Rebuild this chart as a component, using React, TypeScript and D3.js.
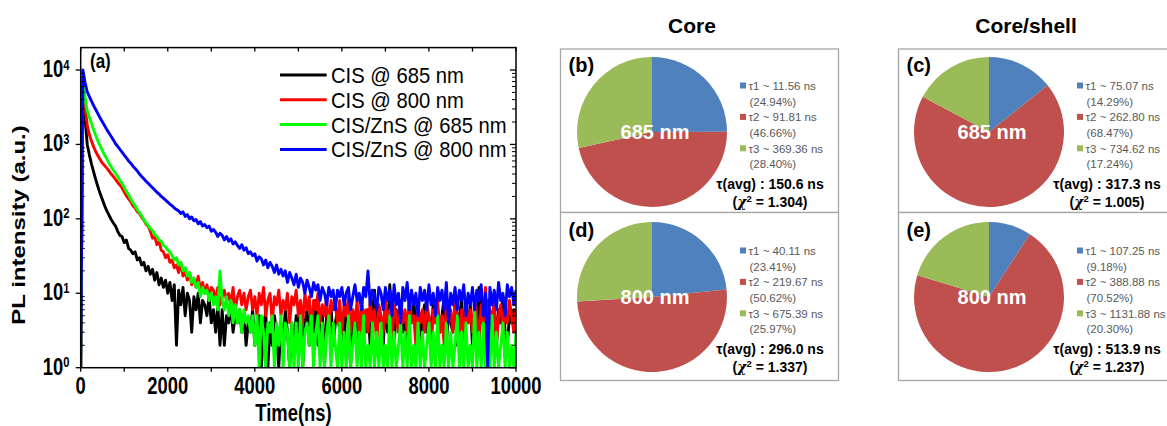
import React from "react";
import * as d3 from "d3";

// time grid (ns), one sample every 50 ns
const times = d3.range(0, 10001, 50);

const seriesNames = ["CIS @ 685 nm", "CIS @ 800 nm", "CIS/ZnS @ 685 nm", "CIS/ZnS @ 800 nm"];
const seriesColors = ["#000000", "#ff0000", "#00ff00", "#0000ff"];

const cis685 = [
  1, 6500, 2200, 1000, 720, 540, 420, 330, 265, 215, 180, 150, 128, 112, 98, 88, 80, 68,
  60, 58, 48, 52, 40, 38, 34, 36, 28, 30, 24, 26, 20, 23, 18, 21, 15, 19, 13, 16,
  12, 15, 10, 14, 8, 13, 2, 11, 7, 12, 5, 10, 8, 3, 9, 6, 10, 4, 8, 7,
  5, 9, 4, 6, 3, 7, 2, 6, 2, 5, 4, 7, 3, 5, 4, 6, 3, 5, 2, 4,
  3, 6, 2, 4, 5, 1, 3, 6, 1, 4, 2, 5, 3, 1, 4, 2, 6, 3, 1, 4,
  2, 5, 3, 7, 1, 4, 6, 2, 5, 3, 8, 2, 4, 6, 1, 5, 3, 7, 2, 4,
  6, 3, 5, 2, 7, 4, 1, 5, 3, 6, 2, 8, 4, 3, 6, 2, 5, 11, 3, 6,
  4, 2, 7, 3, 13, 5, 2, 6, 4, 8, 3, 5, 2, 7, 4, 9, 3, 6, 2, 5,
  7, 3, 5, 2, 8, 4, 6, 3, 5, 9, 2, 6, 4, 3, 7, 2, 5, 8, 3, 6,
  4, 7, 2, 5, 3, 12, 4, 6, 2, 8, 3, 5, 7, 2, 6, 4, 9, 3, 2, 5,
  4, 6, 3,
];

const cis800 = [
  1, 7000, 3300, 1800, 1350, 1100, 920, 790, 700, 620, 560, 520, 480, 440, 400, 370, 340, 310,
  285, 260, 230, 205, 185, 170, 150, 140, 125, 118, 105, 96, 85, 80, 68, 55, 58, 45, 50, 38,
  36, 30, 33, 26, 28, 22, 24, 19, 26, 17, 20, 15, 19, 13, 16, 12, 17, 11, 14, 10,
  13, 9, 12, 11, 8, 12, 7, 9, 11, 8, 10, 7, 12, 6, 9, 11, 7, 10, 6, 9,
  11, 6, 9, 5, 10, 7, 12, 5, 8, 10, 4, 9, 7, 11, 5, 8, 6, 10, 4, 9,
  7, 11, 5, 8, 4, 10, 6, 9, 3, 8, 6, 10, 4, 7, 5, 9, 3, 8, 6, 7,
  4, 8, 3, 7, 5, 9, 3, 6, 4, 8, 2, 7, 5, 6, 3, 8, 4, 6, 2, 7,
  5, 3, 8, 4, 6, 2, 7, 5, 3, 8, 4, 6, 3, 9, 4, 5, 2, 7, 4, 6,
  3, 7, 5, 2, 6, 4, 8, 3, 5, 2, 7, 4, 6, 3, 8, 5, 3, 6, 2, 7,
  4, 6, 3, 8, 5, 2, 7, 4, 12, 3, 6, 4, 8, 2, 5, 7, 3, 6, 4, 8,
  5, 3, 6,
];

const zns685 = [
  1, 7500, 4300, 2800, 2300, 1900, 1550, 1300, 1100, 950, 820, 720, 640, 560, 500, 450, 410, 370,
  330, 300, 265, 235, 210, 185, 165, 150, 132, 122, 110, 98, 88, 82, 74, 70, 62, 58, 52, 50,
  44, 42, 38, 36, 32, 28, 30, 24, 26, 20, 22, 17, 19, 14, 16, 12, 14, 9, 12, 10,
  11, 8, 10, 7, 9, 6, 20, 8, 6, 9, 5, 8, 4, 7, 4, 6, 3, 6, 4, 5,
  3, 5, 2, 5, 1, 5, 3, 1, 4, 3, 5, 1, 4, 2, 5, 1, 4, 3, 1, 4,
  1, 4, 1, 5, 1, 3, 4, 2, 5, 1, 3, 5, 1, 4, 1, 3, 5, 1, 4, 2,
  1, 4, 1, 3, 1, 5, 1, 2, 4, 1, 3, 1, 5, 1, 2, 1, 4, 1, 3, 1,
  4, 1, 2, 1, 5, 1, 3, 1, 2, 4, 1, 3, 1, 5, 1, 2, 1, 4, 1, 3,
  1, 2, 4, 1, 3, 1, 5, 1, 2, 1, 4, 1, 3, 1, 2, 5, 1, 3, 1, 4,
  1, 2, 1, 6, 1, 3, 1, 4, 1, 2, 1, 5, 1, 3, 1, 2, 4, 1, 3, 1,
  2, 1, 3,
];

const zns800 = [
  1, 10000, 6800, 5100, 4400, 3800, 3300, 2900, 2550, 2250, 2000, 1780, 1580, 1420, 1280, 1150, 1020, 940,
  860, 790, 720, 660, 600, 560, 510, 475, 440, 400, 370, 345, 320, 300, 280, 262, 245, 228, 215, 200,
  190, 178, 168, 158, 150, 140, 133, 128, 118, 124, 108, 114, 100, 106, 94, 98, 86, 92, 80, 84,
  76, 80, 68, 72, 66, 58, 64, 60, 52, 58, 50, 54, 46, 49, 44, 40, 45, 38, 41, 34,
  36, 32, 34, 27, 31, 29, 24, 28, 22, 26, 23, 19, 24, 18, 21, 17, 20, 14, 19, 16,
  13, 18, 12, 16, 14, 10, 15, 12, 9, 14, 11, 13, 8, 12, 10, 7, 12, 9, 11, 6,
  11, 9, 12, 7, 10, 12, 6, 9, 13, 8, 10, 6, 12, 9, 20, 7, 11, 9, 6, 12,
  10, 6, 12, 8, 11, 5, 13, 7, 10, 4, 12, 8, 14, 6, 11, 7, 10, 5, 12, 8,
  11, 6, 13, 7, 10, 5, 12, 8, 11, 6, 14, 4, 10, 7, 12, 6, 11, 8, 13, 5,
  10, 7, 12, 6, 11, 8, 13, 5, 10, 1, 12, 7, 11, 6, 14, 8, 10, 5, 13, 9,
  12, 7, 11,
];

const seriesValues = [cis685, cis800, zns685, zns800];

const xTicks = [0, 2000, 4000, 6000, 8000, 10000];
const yTickExps = [0, 1, 2, 3, 4];

// pie panels: (b) core 685, (c) core/shell 685, (d) core 800, (e) core/shell 800
const panelLabels = ["(b)", "(c)", "(d)", "(e)"];
const panelWavelengths = ["685 nm", "685 nm", "800 nm", "800 nm"];
const tauValues = [
  [11.56, 91.81, 369.36],
  [75.07, 262.8, 734.62],
  [40.11, 219.67, 675.39],
  [107.25, 388.88, 1131.88],
];
const tauFractions = [
  [24.94, 46.66, 28.4],
  [14.29, 68.47, 17.24],
  [23.41, 50.62, 25.97],
  [9.18, 70.52, 20.3],
];
const tauAvg = ["150.6", "317.3", "296.0", "513.9"];
const chiSquared = ["1.304", "1.005", "1.337", "1.237"];
const columnTitles = ["Core", "Core/shell"];
const pieColors = ["#4f81bd", "#c0504d", "#9bbb59"];

const W = 1167;
const H = 426;
const plot = { left: 80.7, right: 516, top: 47.6, bottom: 367.7 };
const font = "'Liberation Sans', Arial, sans-serif";

const colCx = [652, 989];
const rowCy = [132, 297];
const boxX = [560.5, 898.5];
const boxW = [278, 300];
const boxY = [49, 212.5];
const boxH = [163.5, 168];

export default function App() {
  const x = d3.scaleLinear().domain([0, 10000]).range([plot.left, plot.right]);
  const y = d3.scaleLog().domain([1, 20000]).range([plot.bottom, plot.top]).clamp(true);
  const line = d3
    .line<number>()
    .x((_, i) => x(times[i]))
    .y((v) => y(v));

  const minorY: number[] = [];
  for (let e = 0; e < 4; e++) for (let m = 2; m <= 9; m++) minorY.push(m * Math.pow(10, e));
  const thousands = d3.range(0, 10001, 1000);

  const pie = d3.pie<number>().sort(null).value((d) => d);
  const arc = d3.arc<d3.PieArcDatum<number>>().innerRadius(0).outerRadius(75);

  return (
    <svg width={W} height={H} style={{ position: "absolute", left: 0, top: 0, background: "#fff" }} fontFamily={font}>
      <defs>
        <clipPath id="plotClip">
          <rect x={plot.left} y={plot.top} width={plot.right - plot.left} height={plot.bottom - plot.top} />
        </clipPath>
      </defs>

      {/* decay curves */}
      <g clipPath="url(#plotClip)">
        {seriesValues.map((vals, i) => (
          <path key={i} d={line(vals) || ""} fill="none" stroke={seriesColors[i]} strokeWidth={2.9} strokeLinejoin="round" />
        ))}
      </g>

      {/* frame */}
      <rect x={plot.left} y={plot.top} width={plot.right - plot.left} height={plot.bottom - plot.top} fill="none" stroke="#000" strokeWidth={1.5} />

      {/* x ticks */}
      {thousands.map((t) => (
        <g key={"xt" + t}>
          <line x1={x(t)} x2={x(t)} y1={plot.bottom} y2={plot.bottom + 4} stroke="#000" strokeWidth={1.3} />
          <line x1={x(t)} x2={x(t)} y1={plot.top} y2={plot.top + 4} stroke="#000" strokeWidth={1.3} />
        </g>
      ))}
      {xTicks.map((t) => (
        <text key={"xl" + t} transform={`translate(${x(t)},394) scale(0.8,1)`} textAnchor="middle" fontSize={23} fontWeight="bold">
          {t}
        </text>
      ))}

      {/* y ticks */}
      {yTickExps.map((e) => (
        <g key={"ym" + e}>
          <line x1={plot.left - 5} x2={plot.left} y1={y(Math.pow(10, e))} y2={y(Math.pow(10, e))} stroke="#000" strokeWidth={1.3} />
          <line x1={plot.right - 6} x2={plot.right} y1={y(Math.pow(10, e))} y2={y(Math.pow(10, e))} stroke="#000" strokeWidth={1.3} />
          <text transform={`translate(69.5,${y(Math.pow(10, e)) + 7}) scale(0.8,1)`} textAnchor="end" fontSize={23} fontWeight="bold">
            10
            <tspan dy={-7.5} fontSize={14}>
              {e}
            </tspan>
          </text>
        </g>
      ))}
      {minorY.map((v) => (
        <g key={"yn" + v}>
          <line x1={plot.left} x2={plot.left + 4} y1={y(v)} y2={y(v)} stroke="#000" strokeWidth={1} />
          <line x1={plot.right - 4} x2={plot.right} y1={y(v)} y2={y(v)} stroke="#000" strokeWidth={1} />
        </g>
      ))}

      {/* axis titles */}
      <text transform="translate(293.5,421) scale(0.8,1)" textAnchor="middle" fontSize={23} fontWeight="bold">
        Time(ns)
      </text>
      <text transform="translate(25,225) scale(0.8,1) rotate(-90)" textAnchor="middle" fontSize={24} fontWeight="bold">
        PL intensity (a.u.)
      </text>
      <text transform="translate(90,68) scale(0.85,1)" fontSize={20} fontWeight="bold">
        (a)
      </text>

      {/* legend */}
      {seriesNames.map((name, i) => (
        <g key={name}>
          <line x1={280} x2={326.7} y1={75 + i * 24.8} y2={75 + i * 24.8} stroke={seriesColors[i]} strokeWidth={3} />
          <text transform={`translate(331,${83 + i * 24.8}) scale(0.92,1)`} fontSize={22}>
            {name}
          </text>
        </g>
      ))}

      {/* pie panels */}
      {columnTitles.map((t, c) => (
        <text key={t} x={c === 0 ? 692 : 1026} y={33} textAnchor="middle" fontSize={21} fontWeight="bold">
          {t}
        </text>
      ))}
      {[0, 1].map((r) =>
        [0, 1].map((c) => (
          <rect key={`box${r}${c}`} x={boxX[c]} y={boxY[r]} width={boxW[c]} height={boxH[r]} fill="#fff" stroke="#a6a6a6" strokeWidth={1.3} />
        ))
      )}
      {panelLabels.map((label, i) => {
        const c = i % 2;
        const r = Math.floor(i / 2);
        const cx = colCx[c];
        const cy = rowCy[r];
        const dy = r * 165;
        const lx = cx + 88;
        const arcs = pie(tauFractions[i]);
        return (
          <g key={label}>
            <g transform={`translate(${cx},${cy})`}>
              {arcs.map((a, k) => (
                <path key={k} d={arc(a) || ""} fill={pieColors[k]} />
              ))}
            </g>
            <text x={cx + 3} y={cy + 7} textAnchor="middle" fontSize={20} fontWeight="bold" fill="#fff">
              {panelWavelengths[i]}
            </text>
            <text x={boxX[c] + 8} y={72 + dy} fontSize={20} fontWeight="bold">
              {label}
            </text>
            {tauValues[i].map((tv, k) => (
              <g key={k} fill="#595959">
                <rect x={lx} y={82.5 + dy + k * 31.4} width={6} height={6} fill={pieColors[k]} />
                <text x={lx + 8.5} y={90 + dy + k * 31.4} fontSize={11.5}>
                  {`τ${k + 1} ~ ${tv.toFixed(2)} ns`}
                </text>
                <text x={lx + 9.5} y={105.5 + dy + k * 31.4} fontSize={11.5}>
                  {`(${tauFractions[i][k].toFixed(2)}%)`}
                </text>
              </g>
            ))}
            <text x={cx + 118} y={189 + dy} textAnchor="middle" fontSize={14} fontWeight="bold">
              {`τ(avg) : ${tauAvg[i]} ns`}
            </text>
            <text x={cx + 118} y={207 + dy} textAnchor="middle" fontSize={14} fontWeight="bold">
              (<tspan fontStyle="italic" fontFamily="'DejaVu Serif', serif">χ</tspan>
              <tspan dy={-5} fontSize={9.5}>2</tspan>
              <tspan dy={5}>{` = ${chiSquared[i]})`}</tspan>
            </text>
          </g>
        );
      })}
    </svg>
  );
}
